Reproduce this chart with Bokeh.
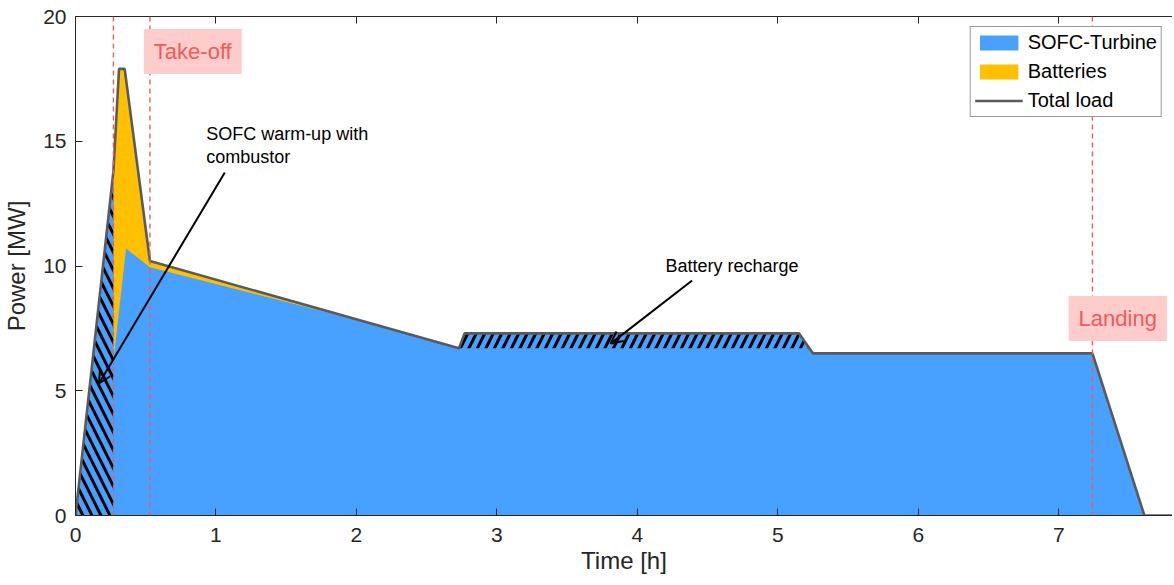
from bokeh.plotting import figure
from bokeh.models import (Range1d, LinearAxis, FixedTicker, Span, Label, Arrow, OpenHead,
                          Legend, LegendItem)
from bokeh.embed import file_html
from bokeh.resources import INLINE

# ---- data ----
t_load = [0.0, 0.27, 0.31, 0.35, 0.53, 2.73, 2.77, 5.15, 5.25, 7.24, 7.61, 7.9]
p_load = [0.0, 13.8, 17.9, 17.9, 10.2, 6.7, 7.3, 7.3, 6.5, 6.5, 0.0, 0.0]

t_sofc = [0.0, 0.27, 0.2701, 0.36, 0.53, 2.05, 2.73, 2.77, 5.15, 5.25, 7.24, 7.61, 7.9]
p_sofc = [0.0, 13.8, 6.2, 10.7, 9.95, 7.78, 6.7, 7.3, 7.3, 6.5, 6.5, 0.0, 0.0]

warm_t = [0.0, 0.27, 0.27]
warm_p = [0.0, 13.8, 0.0]

rech_t = [2.73, 2.77, 5.15, 5.22]
rech_p = [6.7, 7.3, 7.3, 6.7]

phase_t = [0.27, 0.53, 7.24]

x_ticks = [0, 1, 2, 3, 4, 5, 6, 7]
y_ticks = [0, 5, 10, 15, 20]

BLUE = "#48A0FF"
YELLOW = "#FFC000"
LOAD = "#5a5a5a"
RED = "#F25A5A"
PINK = "#FFCCCC"
FONT = "Liberation Sans"
AX = "#262626"

p = figure(width=1172, height=584, output_backend="svg", toolbar_location=None,
           x_range=Range1d(0, 7.81), y_range=Range1d(0, 20),
           x_axis_label="Time [h]", y_axis_label="Power [MW]",
           min_border_left=75, min_border_right=0, min_border_top=16, min_border_bottom=69)
p.outline_line_color = None
p.grid.visible = False
p.background_fill_color = "white"
p.border_fill_color = "white"

for ax in (p.xaxis[0], p.yaxis[0]):
    ax.major_tick_in = 7
    ax.major_tick_out = 0
    ax.minor_tick_line_color = None
    ax.axis_line_color = AX
    ax.major_tick_line_color = AX
    ax.major_label_text_font = FONT
    ax.major_label_text_font_size = "21px"
    ax.major_label_text_color = AX
    ax.axis_label_text_font = FONT
    ax.axis_label_text_font_size = "24px"
    ax.axis_label_text_font_style = "normal"
    ax.axis_label_text_color = AX
p.xaxis[0].ticker = FixedTicker(ticks=x_ticks)
p.yaxis[0].ticker = FixedTicker(ticks=y_ticks)
p.xaxis[0].major_label_standoff = 12
p.xaxis[0].axis_label_standoff = 2
p.yaxis[0].major_label_standoff = 9
p.yaxis[0].axis_label_standoff = 10

top = LinearAxis(ticker=FixedTicker(ticks=x_ticks), major_tick_in=7, major_tick_out=0,
                 minor_tick_line_color=None, axis_line_color=AX, major_tick_line_color=AX,
                 major_label_overrides={t: "" for t in x_ticks}, major_label_standoff=0)
p.add_layout(top, "above")

# areas
r_bat = p.varea(x=t_load, y1=0, y2=p_load, fill_color=YELLOW)
r_sofc = p.varea(x=t_sofc, y1=0, y2=p_sofc, fill_color=BLUE)
p.patch(x=warm_t, y=warm_p, fill_color=BLUE, line_color=None,
        hatch_pattern="\\", hatch_color="black", hatch_weight=3, hatch_scale=18)
p.patch(x=rech_t, y=rech_p, fill_color=BLUE, line_color=None,
        hatch_pattern="/", hatch_color="black", hatch_weight=3, hatch_scale=17)

for t in phase_t:
    p.add_layout(Span(location=t, dimension="height", line_color=RED,
                      line_dash="5 4", line_width=1.4))

r_load = p.line(x=t_load, y=p_load, line_color=LOAD, line_width=2.6)

# phase labels
for txt, x, y in (("Take-off", 0.835, 18.6), ("Landing", 7.42, 7.9)):
    p.add_layout(Label(x=x, y=y, text=txt, text_align="center", text_baseline="middle",
                       text_font=FONT, text_font_size="22px", text_color=RED,
                       background_fill_color=PINK, padding=10))

# annotations
for txt, x, y in (("SOFC warm-up with", 0.93, 15.3), ("combustor", 0.93, 14.35),
                  ("Battery recharge", 4.2, 10.0)):
    p.add_layout(Label(x=x, y=y, text=txt, text_align="left", text_baseline="middle",
                       text_font=FONT, text_font_size="18px", text_color="black"))

p.add_layout(Arrow(x_start=1.063, y_start=13.75, x_end=0.167, y_end=5.29,
                   line_width=2, line_color="black",
                   end=OpenHead(size=12, line_width=2, line_color="black")))
p.add_layout(Arrow(x_start=4.39, y_start=9.42, x_end=3.81, y_end=6.89,
                   line_width=2, line_color="black",
                   end=OpenHead(size=12, line_width=2, line_color="black")))

legend = Legend(items=[LegendItem(label="SOFC-Turbine", renderers=[r_sofc]),
                       LegendItem(label="Batteries", renderers=[r_bat]),
                       LegendItem(label="Total load", renderers=[r_load])],
                location="top_right", margin=10,
                label_text_font=FONT, label_text_font_size="20px", label_text_color="black",
                glyph_width=48, glyph_height=19, spacing=6, padding=4, label_standoff=5,
                border_line_color="#333333", border_line_width=1,
                label_height=20)
p.add_layout(legend, "center")

open("out.html", "w").write(file_html(p, INLINE))
